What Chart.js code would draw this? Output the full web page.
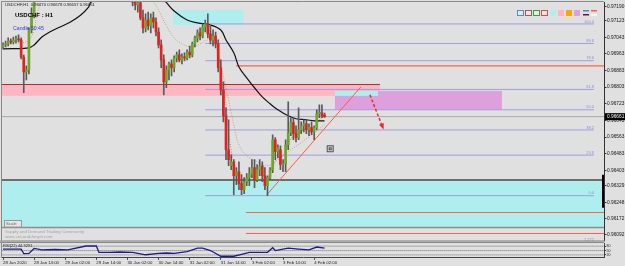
<!DOCTYPE html>
<html><head><meta charset="utf-8">
<script src="https://cdn.jsdelivr.net/npm/chart.js@4.4.1/dist/chart.umd.min.js"></script>
<style>
html,body{margin:0;padding:0;background:#e0e0e0;}
body{width:625px;height:266px;overflow:hidden;position:relative}
.w{position:absolute;left:0;width:625px}
#w1{top:0;height:242px}
#w2{top:242px;height:24px}
canvas{display:block}
</style></head><body>
<div class="w" id="w1"><canvas id="c1" width="625" height="242"></canvas></div>
<div class="w" id="w2"><canvas id="c2" width="625" height="24"></canvas></div>
<script>
// ---------- DATA (USDCHF H1, bar 0 = 28 Jan 2020 02:00) ----------
const opens = [0.96996,0.97006,0.97011,0.97025,0.97020,0.97030,0.97035,0.97030,0.96948,0.96876,
 0.96886,0.97078,0.97150,0.97232,0.97260,0.97280,0.97270,0.97294,0.97308,0.97289,
 0.97318,0.97337,0.97328,0.97347,0.97366,0.97356,0.97376,0.97390,0.97366,0.97385,
 0.97404,0.97395,0.97414,0.97424,0.97404,0.97395,0.97414,0.97433,0.97419,0.97400,
 0.97380,0.97390,0.97366,0.97347,0.97356,0.97328,0.97308,0.97318,0.97289,0.97270,
 0.97241,0.97212,0.97198,0.97208,0.97136,0.97088,0.97126,0.97097,0.97136,0.97116,
 0.97068,0.97006,0.96934,0.96828,0.96886,0.96915,0.96896,0.96944,0.96958,0.96934,
 0.96948,0.96944,0.96972,0.96958,0.97011,0.97040,0.97064,0.97049,0.97092,0.97107,
 0.97059,0.97030,0.97049,0.97011,0.96896,0.96790,0.96665,0.96502,0.96425,0.96444,
 0.96377,0.96396,0.96339,0.96310,0.96348,0.96368,0.96387,0.96416,0.96358,0.96406,
 0.96425,0.96377,0.96329,0.96368,0.96406,0.96550,0.96492,0.96502,0.96430,0.96435,
 0.96526,0.96584,0.96632,0.96579,0.96560,0.96598,0.96617,0.96627,0.96598,0.96608,
 0.96588,0.96608,0.96675,0.96680,0.96670];
const highs = [0.97016,0.97025,0.97040,0.97035,0.97044,0.97049,0.97054,0.97040,0.96958,0.96905,
 0.97088,0.97184,0.97241,0.97270,0.97292,0.97288,0.97305,0.97318,0.97315,0.97328,
 0.97348,0.97345,0.97357,0.97377,0.97372,0.97386,0.97402,0.97398,0.97395,0.97416,
 0.97412,0.97425,0.97438,0.97432,0.97410,0.97425,0.97446,0.97440,0.97428,0.97408,
 0.97398,0.97396,0.97374,0.97366,0.97362,0.97336,0.97326,0.97324,0.97296,0.97278,
 0.97260,0.97232,0.97222,0.97232,0.97174,0.97155,0.97164,0.97155,0.97164,0.97136,
 0.97088,0.97030,0.96958,0.96905,0.96924,0.96934,0.96953,0.96972,0.96982,0.96963,
 0.96968,0.96982,0.97001,0.97020,0.97049,0.97078,0.97088,0.97107,0.97126,0.97155,
 0.97097,0.97078,0.97068,0.97030,0.96934,0.96828,0.96704,0.96646,0.96478,0.96454,
 0.96416,0.96444,0.96382,0.96368,0.96387,0.96416,0.96454,0.96454,0.96430,0.96454,
 0.96444,0.96416,0.96377,0.96416,0.96574,0.96560,0.96526,0.96521,0.96454,0.96550,
 0.96732,0.96656,0.96656,0.96617,0.96704,0.96636,0.96646,0.96646,0.96627,0.96636,
 0.96617,0.96694,0.96718,0.96718,0.96678];
const lows = [0.96987,0.96996,0.97001,0.97011,0.97011,0.97016,0.97020,0.96939,0.96776,0.96838,
 0.96867,0.97064,0.97136,0.97224,0.97250,0.97258,0.97262,0.97284,0.97280,0.97281,
 0.97310,0.97318,0.97320,0.97338,0.97345,0.97348,0.97366,0.97358,0.97356,0.97376,
 0.97386,0.97388,0.97405,0.97396,0.97385,0.97388,0.97406,0.97410,0.97392,0.97372,
 0.97370,0.97358,0.97338,0.97340,0.97320,0.97298,0.97300,0.97280,0.97262,0.97242,
 0.97193,0.97174,0.97164,0.97126,0.97064,0.97068,0.97078,0.97064,0.97088,0.97049,
 0.96992,0.96896,0.96766,0.96800,0.96838,0.96857,0.96876,0.96924,0.96924,0.96915,
 0.96929,0.96934,0.96944,0.96948,0.96996,0.97020,0.97030,0.97040,0.97068,0.97040,
 0.97011,0.97001,0.96992,0.96876,0.96766,0.96636,0.96454,0.96425,0.96406,0.96286,
 0.96334,0.96310,0.96286,0.96291,0.96329,0.96329,0.96368,0.96320,0.96348,0.96377,
 0.96348,0.96310,0.96281,0.96358,0.96392,0.96454,0.96464,0.96406,0.96396,0.96396,
 0.96502,0.96569,0.96550,0.96540,0.96550,0.96579,0.96588,0.96579,0.96569,0.96574,
 0.96550,0.96598,0.96656,0.96656,0.96657];
const closes = [0.97006,0.97011,0.97025,0.97020,0.97030,0.97035,0.97030,0.96948,0.96876,0.96886,
 0.97078,0.97150,0.97232,0.97260,0.97280,0.97270,0.97294,0.97308,0.97289,0.97318,
 0.97337,0.97328,0.97347,0.97366,0.97356,0.97376,0.97390,0.97366,0.97385,0.97404,
 0.97395,0.97414,0.97424,0.97404,0.97395,0.97414,0.97433,0.97419,0.97400,0.97380,
 0.97390,0.97366,0.97347,0.97356,0.97328,0.97308,0.97318,0.97289,0.97270,0.97251,
 0.97212,0.97198,0.97208,0.97136,0.97088,0.97126,0.97097,0.97136,0.97116,0.97068,
 0.97006,0.96934,0.96828,0.96886,0.96915,0.96896,0.96944,0.96958,0.96934,0.96948,
 0.96944,0.96972,0.96958,0.97011,0.97040,0.97064,0.97049,0.97092,0.97107,0.97059,
 0.97030,0.97049,0.97011,0.96896,0.96790,0.96665,0.96502,0.96454,0.96444,0.96377,
 0.96396,0.96339,0.96310,0.96348,0.96368,0.96387,0.96416,0.96358,0.96406,0.96425,
 0.96377,0.96329,0.96368,0.96406,0.96550,0.96492,0.96512,0.96430,0.96435,0.96526,
 0.96584,0.96632,0.96579,0.96560,0.96598,0.96617,0.96627,0.96598,0.96608,0.96588,
 0.96608,0.96675,0.96680,0.96665,0.96661];

// moving averages (bar index, price)
const maSlowBars = [0,10,12,15,18,22,26,30,33,34,40,45,50,55,60,62,66,71,75,80,84,86,89,91,94,97,100,103,106,110,113,117,120,124];
const maSlowValues = [0.96987,0.96992,0.97006,0.97044,0.97068,0.97092,0.97116,0.97150,0.97188,0.97212,0.97251,0.97265,0.97265,0.97251,0.97232,0.97222,0.97169,0.97126,0.97112,0.97102,0.97078,0.97030,0.96968,0.96900,0.96848,0.96800,0.96756,0.96723,0.96694,0.96665,0.96651,0.96646,0.96641,0.96641];
const maMidBars = [0,7,10,12,13,15,20,30,40,47,53,58,60,63,66,69,73,76,79,81,83,85,87,89,91,94,98,102,106,110,115,118,121,124];
const maMidValues = [0.97011,0.97016,0.97030,0.97078,0.97145,0.97212,0.97275,0.97340,0.97365,0.97330,0.97260,0.97212,0.97174,0.97097,0.97040,0.97011,0.96996,0.97011,0.97030,0.97020,0.96958,0.96852,0.96742,0.96622,0.96526,0.96473,0.96444,0.96425,0.96454,0.96492,0.96536,0.96564,0.96593,0.96622];
const maFastBars = [78,80,82,83,84,85,86,87,88,89,90,92,94,96,98,100,102,104,106,108,110,112,114,116,118,120,122,124];
const maFastValues = [0.97078,0.97064,0.97030,0.96972,0.96886,0.96800,0.96718,0.96588,0.96502,0.96440,0.96396,0.96348,0.96344,0.96358,0.96377,0.96382,0.96368,0.96416,0.96464,0.96473,0.96531,0.96569,0.96579,0.96598,0.96603,0.96608,0.96646,0.96660];

// zones: [demand (bottom), supply (top), supply (pink), target (plum), target (cyan)]
const zoneTops      = [0.96358, 0.97174, 0.96819, 0.96785, 0.96785];
const zoneBottoms   = [0.96132, 0.97102, 0.96761, 0.96694, 0.96761];
const zoneStartBars = [-1, 65.6, -1, 128, 128];
const zoneEndBars   = [232, 92.6, 145.4, 192.4, 144.6];

// fibonacci retracement
const fibPrices = [0.97107,0.97013,0.96930,0.96792,0.96694,0.96597,0.96476,0.96281,0.96056];
const fibLabels = ['100.0','88.6','78.6','61.8','50.0','38.2','23.6','0.0','1.272'];
const fibBars = [78, 227.9];

// horizontal levels
const levelPrices = [0.96905, 0.96200, 0.96099];
const levelStartBars = [89.9, 93.7, 93.7];

// trend line and projection arrow
const trendBars = [101.8, 138];
const trendPrices = [0.96286, 0.96804];
const arrowBars = [141.5, 146.5];
const arrowPrices = [0.96766, 0.96608];
const iconBar = 126, iconPrice = 0.96509;

// axis ticks
const priceTicks = [0.97190,0.97123,0.97043,0.96963,0.96883,0.96803,0.96723,0.96643,0.96563,0.96483,0.96403,0.96329,0.96248,0.96172,0.96092];
const timeTickBars = [0,12,24,36,48,60,72,84,96,108,120];
const timeLabels = ['28 Jan 2020','28 Jan 14:00','29 Jan 02:00','29 Jan 14:00','30 Jan 02:00','30 Jan 14:00','31 Jan 02:00','31 Jan 14:00','3 Feb 02:00','3 Feb 14:00','4 Feb 02:00'];

// oscillator
const oscBars = [0,7,8,10,12,15,20,25,32,36,37,41,45,50,55,60,63,66,71,75,77,80,84,89,92,95,99,102,104,105,110,114,118,121,124];
const oscValues = [59,59,29,30,64,55,57,55,81,81,38,38,40,38,21,31,33,31,43,66,66,50,11,11,24,38,38,38,69,50,66,60,55,74,66];
const oscLevels = [80,50,20];

// ---------- CHARTS ----------
const FONT = '"Liberation Sans", Arial, sans-serif';
Chart.defaults.font.family = FONT;
const XMIN = -0.386, XMAX = 231.78;
const bars = opens.map((_, i) => i);
const pts = (xs, ys) => xs.map((x, k) => ({x: x, y: ys[k]}));
const hline = (x0, x1, p) => [{x: x0, y: p}, {x: x1, y: p}];

const lineDs = (data, color, width, extra) => Object.assign({
  type: 'line', data: data, borderColor: color, borderWidth: width, pointRadius: 0,
  fill: false, clip: 0, order: 5
}, extra || {});

const datasets = [
  {type: 'bar', data: bars.map(i => ({x: i, y: [opens[i], closes[i]]})),
   backgroundColor: bars.map(i => closes[i] >= opens[i] ? '#6ea52a' : '#e0231e'),
   barThickness: 2, grouped: false, minBarLength: 1, borderWidth: 0, order: 1, clip: 0},
  {type: 'bar', data: bars.map(i => ({x: i, y: [lows[i], highs[i]]})),
   backgroundColor: '#5a5a5a', barThickness: 1, grouped: false, borderWidth: 0, order: 2, clip: 0},
  lineDs(pts(maSlowBars, maSlowValues), '#111111', 1.2, {tension: 0.4, order: 3}),
  lineDs(pts(maMidBars, maMidValues), '#c9a07c', 1, {tension: 0.4, borderDash: [1, 1.5], order: 3}),
  lineDs(pts(maFastBars, maFastValues), '#e07070', 1, {tension: 0.4, borderDash: [1, 1.5], order: 3}),
  lineDs(hline(-1, 232, closes[closes.length - 1]), '#a9a9a9', 1, {order: 6}),
  lineDs(pts(trendBars, trendPrices), '#ff5a3a', 1, {order: 4}),
  lineDs(pts(arrowBars, arrowPrices), '#f02828', 1.5, {borderDash: [3, 2], order: 4})
];
fibPrices.forEach(p => datasets.push(lineDs(hline(fibBars[0], fibBars[1], p), '#9e9ee2', 1)));
levelPrices.forEach((p, k) => datasets.push(lineDs(hline(levelStartBars[k], 232, p), '#ff6242', 1.2)));

const mainOverlay = {
  id: 'mainOverlay',
  beforeDatasetsDraw(chart) {
    const {ctx, chartArea: a, scales: {x, y}} = chart;
    ctx.save();
    ctx.beginPath(); ctx.rect(a.left, a.top, a.right - a.left, a.bottom - a.top); ctx.clip();
    const fills = ['#afeeee', '#afeeee', '#ffb6c1', '#dda0dd', '#afeeee'];
    for (let k = 0; k < zoneTops.length; k++) {
      const x0 = x.getPixelForValue(zoneStartBars[k]), x1 = x.getPixelForValue(zoneEndBars[k]);
      const y0 = y.getPixelForValue(zoneTops[k]), y1 = y.getPixelForValue(zoneBottoms[k]);
      ctx.fillStyle = fills[k];
      ctx.fillRect(x0, y0, x1 - x0, y1 - y0);
    }
    // pink zone top edge
    let yy = Math.round(y.getPixelForValue(zoneTops[2])) + 0.5;
    ctx.strokeStyle = '#a83434'; ctx.lineWidth = 1;
    ctx.beginPath(); ctx.moveTo(x.getPixelForValue(zoneStartBars[2]), yy); ctx.lineTo(x.getPixelForValue(zoneEndBars[2]), yy); ctx.stroke();
    // demand zone borders
    yy = Math.round(y.getPixelForValue(zoneTops[0]));
    ctx.strokeStyle = '#6e6e6e'; ctx.lineWidth = 2;
    ctx.beginPath(); ctx.moveTo(a.left, yy); ctx.lineTo(a.right, yy); ctx.stroke();
    yy = Math.round(y.getPixelForValue(zoneBottoms[0])) + 0.5;
    ctx.strokeStyle = '#8c8c8c'; ctx.lineWidth = 1.5;
    ctx.beginPath(); ctx.moveTo(a.left, yy); ctx.lineTo(a.right, yy); ctx.stroke();
    ctx.restore();
  },
  afterDatasetsDraw(chart) {
    const {ctx, chartArea: a, scales: {x, y}} = chart;
    ctx.save();
    // fib labels
    ctx.font = '4px ' + FONT; ctx.fillStyle = '#8f8fd8'; ctx.textAlign = 'right'; ctx.textBaseline = 'bottom';
    const fx = x.getPixelForValue(fibBars[1]);
    fibPrices.forEach((p, k) => ctx.fillText(fibLabels[k], fx, y.getPixelForValue(p) - 0.5));
    // arrow head
    const ax0 = x.getPixelForValue(arrowBars[0]), ay0 = y.getPixelForValue(arrowPrices[0]);
    const ax1 = x.getPixelForValue(arrowBars[1]), ay1 = y.getPixelForValue(arrowPrices[1]);
    const ang = Math.atan2(ay1 - ay0, ax1 - ax0);
    ctx.fillStyle = '#f02828';
    ctx.beginPath();
    ctx.moveTo(ax1 + 2 * Math.cos(ang), ay1 + 2 * Math.sin(ang));
    ctx.lineTo(ax1 - 4 * Math.cos(ang) + 2.5 * Math.sin(ang), ay1 - 4 * Math.sin(ang) - 2.5 * Math.cos(ang));
    ctx.lineTo(ax1 - 4 * Math.cos(ang) - 2.5 * Math.sin(ang), ay1 - 4 * Math.sin(ang) + 2.5 * Math.cos(ang));
    ctx.closePath(); ctx.fill();
    // small object icon
    const ix = x.getPixelForValue(iconBar), iy = y.getPixelForValue(iconPrice);
    ctx.fillStyle = '#d0d0d0'; ctx.fillRect(ix - 3, iy - 3, 7, 7);
    ctx.strokeStyle = '#555'; ctx.lineWidth = 1; ctx.strokeRect(ix - 2.5, iy - 2.5, 6, 6);
    ctx.strokeRect(ix - 0.5, iy - 0.5, 2, 2);
    ctx.restore();
  },
  afterDraw(chart) {
    const {ctx, chartArea: a, scales: {x, y}} = chart;
    ctx.save();
    // frame
    ctx.strokeStyle = '#8a8a8a'; ctx.lineWidth = 1;
    ctx.beginPath(); ctx.moveTo(1.5, a.bottom); ctx.lineTo(1.5, 1.5); ctx.lineTo(a.right, 1.5); ctx.stroke();
    ctx.strokeStyle = '#7a7a7a';
    ctx.beginPath(); ctx.moveTo(0, a.bottom + 0.5); ctx.lineTo(a.right + 1, a.bottom + 0.5); ctx.stroke();
    // black mark on axis edge
    ctx.strokeStyle = '#000'; ctx.lineWidth = 2;
    ctx.beginPath(); ctx.moveTo(a.right - 1, y.getPixelForValue(0.96382)); ctx.lineTo(a.right - 1, y.getPixelForValue(0.96223)); ctx.stroke();
    // current price box
    const last = closes[closes.length - 1];
    const py = y.getPixelForValue(last);
    ctx.fillStyle = '#000'; ctx.fillRect(a.right + 1, py - 3.5, 20, 7);
    ctx.fillStyle = '#fff'; ctx.font = '4.8px ' + FONT; ctx.textAlign = 'left'; ctx.textBaseline = 'middle';
    ctx.fillText(last.toFixed(5), a.right + 3, py);
    // header texts
    ctx.fillStyle = '#222'; ctx.font = '4.2px ' + FONT; ctx.textBaseline = 'middle';
    ctx.fillText('USDCHF,H1  ' + opens[124].toFixed(5) + ' ' + highs[124].toFixed(5) + ' ' + lows[124].toFixed(5) + ' ' + closes[124].toFixed(5), 5, 5);
    ctx.fillStyle = '#000'; ctx.font = 'bold 6px ' + FONT;
    ctx.fillText('USDCHF : H1', 15, 15.5);
    ctx.fillStyle = '#3535d0'; ctx.font = '5.2px ' + FONT;
    ctx.fillText('Candle 50:45', 13, 29);
    // watermark
    ctx.fillStyle = '#a4a4a4'; ctx.font = '4.4px ' + FONT;
    ctx.fillText('Supply and Demand Trading Community', 5, 232);
    ctx.fillText('www.set-and-forget.com', 5, 237);
    // Scale box
    ctx.fillStyle = '#e6e6e6'; ctx.fillRect(4.5, 220.5, 17, 6.5);
    ctx.strokeStyle = '#999'; ctx.lineWidth = 1; ctx.strokeRect(4.5, 220.5, 17, 6.5);
    ctx.fillStyle = '#666'; ctx.font = '4.3px ' + FONT; ctx.fillText('Scale', 6, 224);
    // palette icons
    const outl = ['#4a90d9', '#a35a5a', '#3e9a3e', '#e04848'];
    outl.forEach((c, k) => {
      const px = 517 + k * 8;
      ctx.fillStyle = '#e8e8e8'; ctx.fillRect(px, 10, 7, 6);
      ctx.strokeStyle = c; ctx.lineWidth = 1; ctx.strokeRect(px + 0.5, 10.5, 6, 5);
    });
    ['#afeeee', '#ffb6c1', '#ffa500', '#dda0dd'].forEach((c, k) => {
      ctx.fillStyle = c; ctx.fillRect(550 + k * 8, 10, 6, 6);
    });
    ctx.fillStyle = '#3a8ee0'; ctx.fillRect(583, 10, 6, 1.5);
    ctx.fillStyle = '#6a1a1a'; ctx.fillRect(583, 14, 6, 1.5);
    ctx.fillStyle = '#ff5a4a'; ctx.fillRect(591, 10, 6, 1.5);
    ctx.fillStyle = '#ffffff'; ctx.fillRect(591, 14, 6, 1.5);
    ctx.restore();
  }
};

new Chart(document.getElementById('c1'), {
  type: 'bar',
  data: {datasets: datasets},
  options: {
    responsive: false, animation: false, devicePixelRatio: 1,
    layout: {padding: {left: 2, top: 2, right: 0, bottom: 1}},
    plugins: {legend: {display: false}, tooltip: {enabled: false}},
    scales: {
      x: {type: 'linear', min: XMIN, max: XMAX, display: false, offset: false},
      y: {
        position: 'right', min: 0.960652, max: 0.972124,
        afterBuildTicks: s => { s.ticks = priceTicks.map(v => ({value: v})); },
        afterFit: s => { s.width = 21; },
        ticks: {callback: v => Number(v).toFixed(5), font: {size: 4.8, lineHeight: 0.4}, color: '#111', padding: 0.5, autoSkip: false},
        grid: {drawOnChartArea: false, tickLength: 2.5, color: '#333', lineWidth: 1},
        border: {display: true, color: '#333'}
      }
    }
  },
  plugins: [mainOverlay]
});

const oscOverlay = {
  id: 'oscOverlay',
  afterDraw(chart) {
    const {ctx, chartArea: a} = chart;
    ctx.save();
    ctx.strokeStyle = '#8a8a8a'; ctx.lineWidth = 1;
    ctx.beginPath(); ctx.moveTo(0, 0.5); ctx.lineTo(a.right, 0.5); ctx.stroke();
    ctx.beginPath(); ctx.moveTo(1.5, 0); ctx.lineTo(1.5, a.bottom); ctx.stroke();
    ctx.fillStyle = '#222'; ctx.font = '4px ' + FONT; ctx.textBaseline = 'middle'; ctx.textAlign = 'left';
    ctx.fillText('RSI(22) 44.9291', 3, 4);
    ctx.restore();
  }
};

const oscDatasets = [
  {type: 'line', data: pts(oscBars, oscValues), borderColor: '#1c1c8c', borderWidth: 1.3, pointRadius: 0, tension: 0, clip: 0, order: 1}
];
oscLevels.forEach(v => oscDatasets.push({type: 'line', data: hline(-1, 232, v), borderColor: '#707070', borderWidth: 1, borderDash: [1, 1], pointRadius: 0, clip: 0, order: 2}));

new Chart(document.getElementById('c2'), {
  type: 'line',
  data: {datasets: oscDatasets},
  options: {
    responsive: false, animation: false, devicePixelRatio: 1,
    layout: {padding: {left: 2, top: 1, right: 0, bottom: 0}},
    plugins: {legend: {display: false}, tooltip: {enabled: false}},
    scales: {
      x: {
        type: 'linear', min: XMIN, max: XMAX, offset: false,
        afterBuildTicks: s => { s.ticks = timeTickBars.map(v => ({value: v})); },
        ticks: {autoSkip: false, maxRotation: 0, minRotation: 0, align: 'start', font: {size: 4.3}, color: '#222', padding: 0.5,
                callback: v => timeLabels[timeTickBars.indexOf(v)]},
        grid: {drawOnChartArea: false, tickLength: 2, color: '#444'},
        border: {display: true, color: '#444'}
      },
      y: {
        position: 'right', min: 0, max: 100,
        afterBuildTicks: s => { s.ticks = oscLevels.map(v => ({value: v})); },
        afterFit: s => { s.width = 21; },
        ticks: {font: {size: 3.6, lineHeight: 0.4}, color: '#222', padding: 0.5, autoSkip: false},
        grid: {drawOnChartArea: false, tickLength: 2, color: '#444'},
        border: {display: true, color: '#444'}
      }
    }
  },
  plugins: [oscOverlay]
});
</script></body></html>
